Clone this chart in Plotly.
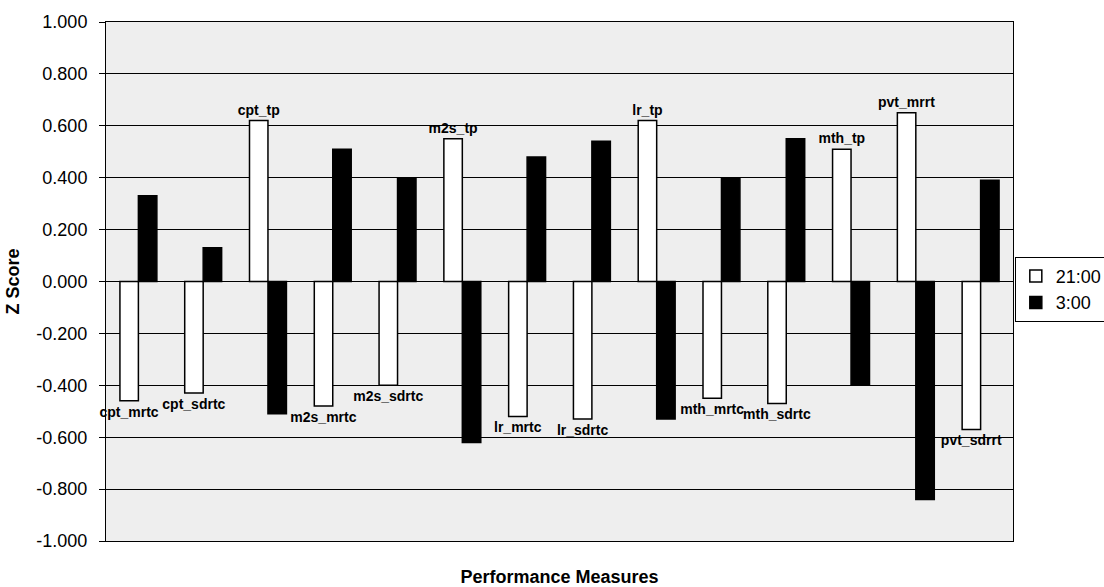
import plotly.graph_objects as go

# Performance measures and their Z scores at the two test times
measures = [
    "cpt_mrtc", "cpt_sdrtc", "cpt_tp",
    "m2s_mrtc", "m2s_sdrtc", "m2s_tp",
    "lr_mrtc", "lr_sdrtc", "lr_tp",
    "mth_mrtc", "mth_sdrtc", "mth_tp",
    "pvt_mrrt", "pvt_sdrrt",
]
z_2100 = [-0.46, -0.43, 0.62, -0.48, -0.40, 0.55, -0.52, -0.53, 0.62,
          -0.45, -0.47, 0.51, 0.65, -0.57]
z_0300 = [0.33, 0.13, -0.51, 0.51, 0.40, -0.62, 0.48, 0.54, -0.53,
          0.40, 0.55, -0.40, -0.84, 0.39]

y_ticks = [-1.0, -0.8, -0.6, -0.4, -0.2, 0.0, 0.2, 0.4, 0.6, 0.8, 1.0]
y_tick_labels = ["-1.000", "-0.800", "-0.600", "-0.400", "-0.200", "0.000",
                 "0.200", "0.400", "0.600", "0.800", "1.000"]

FONT = "Arial, Liberation Sans, sans-serif"

fig = go.Figure()

fig.add_trace(go.Bar(
    name="21:00",
    x=measures,
    y=z_2100,
    marker=dict(color="white", line=dict(color="black", width=1.5)),
    text=measures,
    textposition="outside",
    constraintext="none",
    cliponaxis=False,
    textfont=dict(family=FONT, size=14, color="black", weight="bold"),
))

fig.add_trace(go.Bar(
    name="3:00",
    x=measures,
    y=z_0300,
    marker=dict(color="black", line=dict(color="black", width=1.5)),
))

fig.update_layout(
    width=1104,
    height=587,
    margin=dict(l=106, r=91, t=22, b=46, autoexpand=False),
    paper_bgcolor="white",
    plot_bgcolor="#eeeeee",
    barmode="group",
    bargap=0.43,
    bargroupgap=0,
    font=dict(family=FONT, color="black"),
    showlegend=True,
    legend=dict(
        x=1.002, xref="paper", xanchor="left",
        y=0.485, yanchor="middle",
        bordercolor="black", borderwidth=1,
        bgcolor="white",
        font=dict(family=FONT, size=18, color="black"),
        itemwidth=30,
        tracegroupgap=0,
    ),
    xaxis=dict(
        showticklabels=False,
        ticks="",
        showgrid=False,
        showline=True, linecolor="black", linewidth=1, mirror=True,
        title=dict(text="<b>Performance Measures</b>",
                   font=dict(family=FONT, size=18, color="black"),
                   standoff=30),
    ),
    yaxis=dict(
        range=[-1.0, 1.0],
        tickvals=y_ticks,
        ticktext=y_tick_labels,
        ticks="outside", ticklen=6, tickcolor="black", tickwidth=1,
        ticklabelstandoff=8,
        tickfont=dict(family=FONT, size=18, color="black"),
        showgrid=True, gridcolor="black", gridwidth=1,
        zeroline=True, zerolinecolor="black", zerolinewidth=1,
        showline=True, linecolor="black", linewidth=1, mirror=True,
        title=dict(text="<b>Z Score</b>",
                   font=dict(family=FONT, size=18, color="black"),
                   standoff=12),
    ),
)

fig.write_html("out.html")
